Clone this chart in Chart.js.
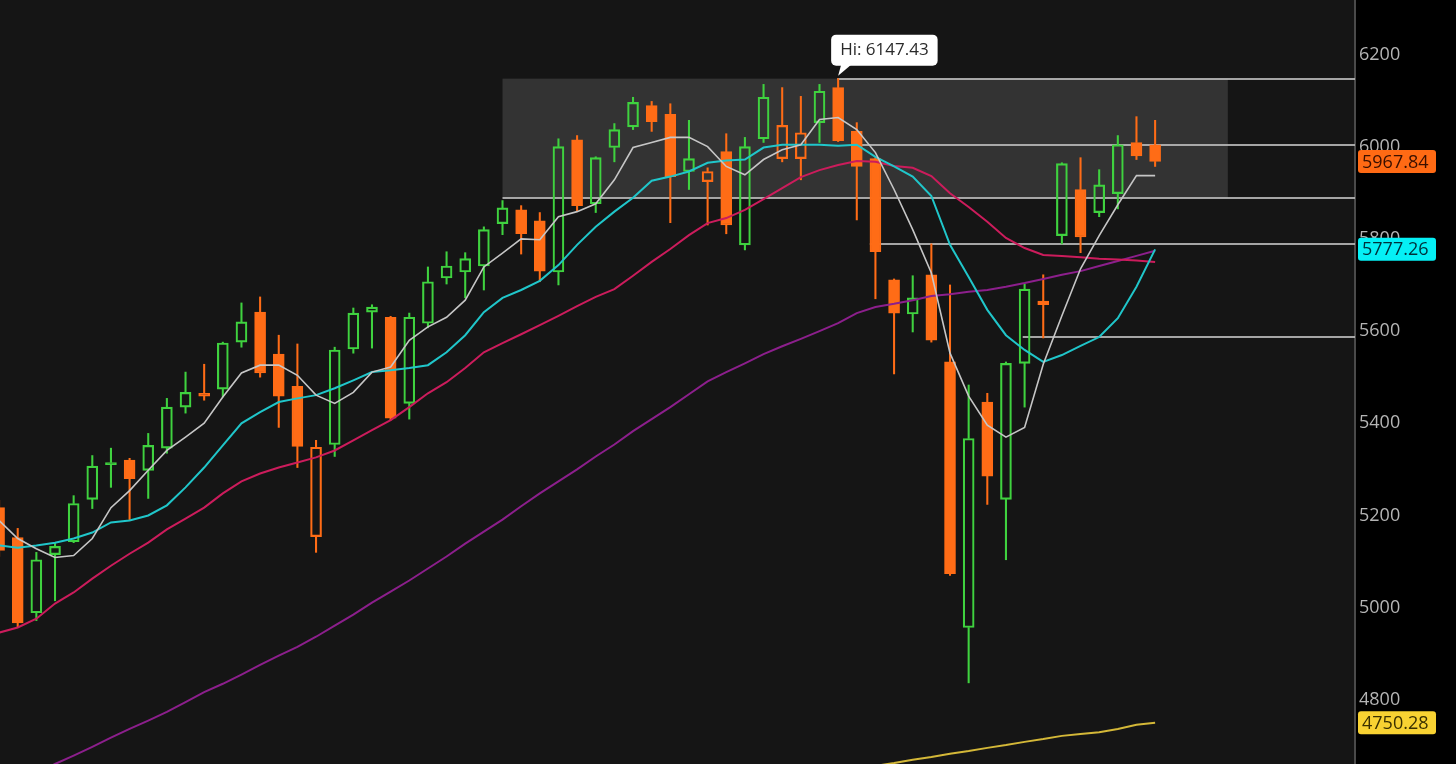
<!DOCTYPE html>
<html>
<head>
<meta charset="utf-8">
<title>SPX daily</title>
<script src="https://cdn.jsdelivr.net/npm/chart.js@4.4.1/dist/chart.umd.min.js"></script>
<style>
  html, body { margin: 0; padding: 0; background: #000; overflow: hidden; }
</style>
</head>
<body>
<canvas id="priceChart" width="1456" height="764"></canvas>
<script>
// daily candles, oldest first
const opens = [
  5217, 5152, 4989, 5115, 5143, 5235, 5315, 5320, 5298, 5346,
  5435, 5465, 5474, 5576, 5641, 5550, 5480, 5154, 5354, 5561,
  5641, 5630, 5443, 5617, 5715, 5728, 5741, 5833, 5863, 5839,
  5728, 6015, 5876, 5998, 6043, 6089, 6070, 5946, 5924, 5989,
  5787, 6017, 5974, 5974, 6052, 6128, 6033, 5974, 5711, 5637,
  5722, 5533, 4957, 5446, 5235, 5530, 5657, 5807, 5907, 5857,
  5898, 6009, 6004
];
const highs = [
  5233, 5172, 5120, 5141, 5243, 5330, 5346, 5324, 5378, 5454,
  5511, 5528, 5576, 5661, 5674, 5591, 5572, 5363, 5565, 5650,
  5657, 5632, 5639, 5739, 5772, 5770, 5826, 5883, 5872, 5857,
  6017, 6024, 5978, 6050, 6107, 6098, 6093, 6057, 5954, 6028,
  6020, 6135, 6128, 6109, 6135, 6147.43, 6052, 5976, 5713, 5720,
  5789, 5700, 5483, 5465, 5533, 5702, 5722, 5965, 5976, 5950,
  6024, 6065, 6057
];
const lows = [
  5111, 4957, 4972, 5015, 5141, 5215, 5261, 5191, 5237, 5335,
  5422, 5450, 5457, 5565, 5500, 5391, 5304, 5120, 5328, 5552,
  5563, 5407, 5409, 5607, 5702, 5672, 5689, 5809, 5767, 5707,
  5700, 5859, 5857, 5967, 6037, 6033, 5835, 5907, 5830, 5811,
  5776, 6009, 5967, 5928, 6009, 6011, 5841, 5670, 5507, 5598,
  5576, 5070, 4837, 5224, 5104, 5435, 5585, 5789, 5770, 5848,
  5865, 5972, 5957
];
const closes = [
  5124, 4967, 5104, 5133, 5226, 5307, 5310, 5280, 5352, 5435,
  5467, 5459, 5574, 5620, 5509, 5459, 5350, 5348, 5559, 5639,
  5652, 5411, 5630, 5707, 5741, 5757, 5820, 5867, 5811, 5730,
  6000, 5872, 5976, 6037, 6096, 6054, 5935, 5974, 5946, 5830,
  6000, 6107, 6046, 6030, 6120, 6013, 5957, 5772, 5639, 5672,
  5580, 5074, 5367, 5285, 5530, 5691, 5665, 5963, 5804, 5917,
  6004, 5980, 5967.84
];

// moving averages
const maFast = [
  5189, 5150, 5128, 5109, 5113, 5150, 5217, 5254, 5298, 5341,
  5370, 5400, 5457, 5509, 5526, 5526, 5504, 5461, 5443, 5467,
  5511, 5522, 5580, 5609, 5630, 5667, 5739, 5769, 5800, 5798,
  5848, 5859, 5876, 5928, 5998, 6009, 6020, 6020, 6000, 5957,
  5939, 5972, 5993, 6004, 6059, 6063, 6037, 5987, 5907, 5820,
  5726, 5552, 5459, 5396, 5370, 5391, 5528, 5633, 5735, 5807,
  5874, 5937, 5937
];
const ma21 = [
  5135, 5130, 5135, 5141, 5150, 5163, 5185, 5189, 5200, 5222,
  5261, 5304, 5352, 5400, 5424, 5446, 5454, 5461, 5476, 5493,
  5511, 5515, 5520, 5526, 5554, 5591, 5641, 5672, 5689, 5709,
  5743, 5787, 5826, 5859, 5889, 5926, 5935, 5946, 5965, 5970,
  5972, 5998, 6004, 6004, 6004, 6002, 6004, 5978, 5957, 5935,
  5893, 5787, 5717, 5646, 5591, 5559, 5533, 5548, 5568, 5587,
  5628, 5696, 5777.26
];
const ma50 = [
  4946, 4957, 4976, 5009, 5033, 5063, 5091, 5117, 5141, 5170,
  5193, 5217, 5248, 5274, 5291, 5304, 5315, 5326, 5341, 5363,
  5385, 5407, 5435, 5465, 5489, 5520, 5554, 5574, 5593, 5613,
  5633, 5654, 5674, 5691, 5720, 5750, 5778, 5808, 5834, 5845,
  5863, 5886, 5910, 5934, 5949, 5960, 5969, 5967, 5958, 5954,
  5936, 5899, 5869, 5837, 5802, 5780, 5765, 5763, 5760, 5757,
  5755, 5753, 5750
];
const ma100 = [
  4602, 4622, 4641, 4661, 4679, 4698, 4718, 4737, 4755, 4774,
  4795, 4817, 4835, 4855, 4876, 4896, 4915, 4937, 4961, 4985,
  5011, 5035, 5059, 5085, 5111, 5139, 5165, 5191, 5220, 5248,
  5274, 5300, 5328, 5354, 5383, 5409, 5435, 5463, 5491, 5511,
  5530, 5550, 5567, 5583, 5600, 5617, 5639, 5652, 5659, 5667,
  5676, 5680, 5685, 5689, 5696, 5704, 5713, 5722, 5730, 5741,
  5752, 5763, 5774
];
const ma200 = [
  ...Array(46).fill(null),
  4650, 4657, 4663, 4670, 4676, 4683, 4689, 4696, 4702, 4709,
  4715, 4722, 4726, 4730, 4737, 4746, 4750.28
];

const yTicks = [4800, 5000, 5200, 5400, 5600, 5800, 6000, 6200];

// horizontal levels: price and the candle index where the line starts
const levelValues = [6147.43, 6004, 5889, 5789, 5587];
const levelStarts = [44.95, 45.8, 27, 46.7, 54.9];

// shaded range
const zoneLow = 5889;
const zoneHigh = 6147.43;
const zoneFrom = 27;
const zoneTo = 65.9;

// price tags on the axis: last close, ma21, ma200
const tagValues = [closes[closes.length - 1], ma21[ma21.length - 1], ma200[ma200.length - 1]];

const GREEN = "#3fd23f";
const ORANGE = "#ff6c16";

function candleColor(i) {
  const prev = i > 0 ? closes[i - 1] : opens[i];
  return closes[i] >= prev ? GREEN : ORANGE;
}

const bodies = closes.map((c, i) => ({ x: i, y: [opens[i], c] }));
const upperWicks = closes.map((c, i) => ({ x: i, y: [Math.max(opens[i], c), highs[i]] }));
const lowerWicks = closes.map((c, i) => ({ x: i, y: [lows[i], Math.min(opens[i], c)] }));
const asPoints = arr => arr.map((v, i) => ({ x: i, y: v }));

function maLine(values, color, width) {
  return {
    type: "line",
    data: asPoints(values),
    borderColor: color,
    borderWidth: width,
    pointRadius: 0,
    tension: 0,
    spanGaps: false,
    order: 0
  };
}

function wickSet(data) {
  return {
    type: "bar",
    data: data,
    backgroundColor: ctx => candleColor(ctx.dataIndex),
    borderWidth: 0,
    barThickness: 1.4,
    grouped: false,
    order: 2
  };
}

const overlay = {
  id: "overlay",
  beforeDraw(chart) {
    const { ctx, chartArea: a } = chart;
    ctx.save();
    ctx.fillStyle = "#000";
    ctx.fillRect(0, 0, chart.width, chart.height);
    ctx.fillStyle = "#151515";
    ctx.fillRect(a.left, a.top, a.right - a.left, a.bottom - a.top);
    ctx.restore();
  },
  beforeDatasetsDraw(chart) {
    const { ctx, chartArea: a } = chart;
    const xs = chart.scales.x, ys = chart.scales.y;
    ctx.save();
    const zx = xs.getPixelForValue(zoneFrom);
    const zy = ys.getPixelForValue(zoneHigh);
    ctx.fillStyle = "#333333";
    ctx.fillRect(zx, zy, xs.getPixelForValue(zoneTo) - zx, ys.getPixelForValue(zoneLow) - zy);
    ctx.strokeStyle = "rgba(190,190,190,0.85)";
    ctx.lineWidth = 2;
    levelValues.forEach((v, k) => {
      const y = Math.round(ys.getPixelForValue(v));
      ctx.beginPath();
      ctx.moveTo(xs.getPixelForValue(levelStarts[k]), y);
      ctx.lineTo(a.right, y);
      ctx.stroke();
    });
    ctx.restore();
  },
  afterDraw(chart) {
    const { ctx } = chart;
    const xs = chart.scales.x, ys = chart.scales.y;
    ctx.save();
    // axis price tags
    const tagFill = ["#ff6a14", "#05f0f5", "#f8d232"];
    const tagText = ["#3a1000", "#00303a", "#3a3000"];
    ctx.font = "18px 'Open Sans', sans-serif";
    ctx.textBaseline = "middle";
    ctx.textAlign = "left";
    tagValues.forEach((v, k) => {
      const y = ys.getPixelForValue(v);
      ctx.fillStyle = tagFill[k];
      ctx.beginPath();
      ctx.roundRect(1358, y - 11.5, 78, 23, 3);
      ctx.fill();
      ctx.fillStyle = tagText[k];
      ctx.fillText(v.toFixed(2), 1362, y + 1);
    });
    // high label
    const hiVal = Math.max(...highs);
    const hiIdx = highs.indexOf(hiVal);
    const hx = xs.getPixelForValue(hiIdx);
    const hy = ys.getPixelForValue(hiVal);
    const label = "Hi: " + hiVal.toFixed(2);
    ctx.font = "17px 'Open Sans', sans-serif";
    const w = ctx.measureText(label).width + 18;
    ctx.fillStyle = "#ffffff";
    ctx.beginPath();
    ctx.roundRect(hx - 7, hy - 44, w, 31, 5);
    ctx.fill();
    ctx.beginPath();
    ctx.moveTo(hx + 3, hy - 14);
    ctx.lineTo(hx + 13, hy - 14);
    ctx.lineTo(hx, hy - 3);
    ctx.closePath();
    ctx.fill();
    ctx.fillStyle = "#2a2a2a";
    ctx.fillText(label, hx + 2, hy - 28);
    ctx.restore();
  }
};

Chart.defaults.font.family = "'Open Sans', sans-serif";

new Chart(document.getElementById("priceChart").getContext("2d"), {
  type: "bar",
  data: {
    datasets: [
      maLine(maFast, "#c6c6c6", 1.6),
      maLine(ma21, "#20c6ca", 2),
      maLine(ma50, "#cc1c5c", 2),
      maLine(ma100, "#8c1f8c", 2),
      maLine(ma200, "#d4b838", 2),
      {
        type: "bar",
        data: bodies,
        backgroundColor: ctx => closes[ctx.dataIndex] > opens[ctx.dataIndex] ? "rgba(0,0,0,0)" : candleColor(ctx.dataIndex),
        borderColor: ctx => candleColor(ctx.dataIndex),
        borderWidth: 1.5,
        borderSkipped: false,
        barThickness: 11,
        grouped: false,
        order: 1
      },
      wickSet(upperWicks),
      wickSet(lowerWicks)
    ]
  },
  options: {
    responsive: false,
    animation: false,
    events: [],
    layout: { padding: 0 },
    plugins: { legend: { display: false }, tooltip: { enabled: false } },
    scales: {
      x: {
        type: "linear",
        display: false,
        min: 0.05,
        max: 72.72,
        offset: false,
        bounds: "data"
      },
      y: {
        position: "right",
        min: 4661,
        max: 6318,
        bounds: "data",
        grid: { display: false, drawTicks: false },
        border: { display: true, color: "#4a4a4a", width: 2 },
        ticks: { color: "#b4b4b4", padding: 4, font: { size: 18 }, callback: v => String(v) },
        afterBuildTicks: s => { s.ticks = yTicks.map(v => ({ value: v })); },
        afterFit: s => { s.width = 101; s.paddingTop = 0; s.paddingBottom = 0; }
      }
    }
  },
  plugins: [overlay]
});
</script>
</body>
</html>
